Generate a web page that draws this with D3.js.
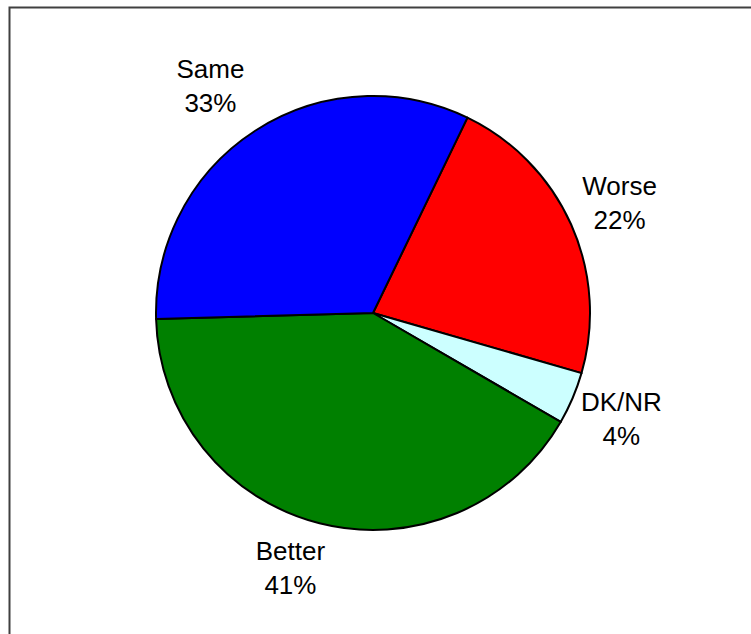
<!DOCTYPE html>
<html>
<head>
<meta charset="utf-8">
<script src="https://cdn.jsdelivr.net/npm/d3@7"></script>
<style>
    html, body { margin: 0; background: #fff; overflow: hidden; }
    svg { display: block; }
    text { font-family: "Liberation Sans", Arial, sans-serif; }
</style>
</head>
<body>
<svg id="chart"></svg>
<script>
// slice order is clockwise from the first edge
const categories = ['Worse', 'DK/NR', 'Better', 'Same'];
const values = [22.3, 3.9, 41.2, 32.6];
const colors = ['#ff0000', '#ccffff', '#008000', '#0000ff'];

const width = 751, height = 634;
const cx = 373, cy = 313, radius = 217;
const start = 25.8 * Math.PI / 180;

const svg = d3.select('#chart')
    .attr('width', width)
    .attr('height', height);

// chart frame (runs off the right and bottom edges)
svg.append('rect')
    .attr('x', 9.5)
    .attr('y', 7.5)
    .attr('width', 800)
    .attr('height', 700)
    .attr('fill', 'none')
    .attr('stroke', '#404040')
    .attr('stroke-width', 2);

const data = categories.map((c, i) => ({ name: c, value: values[i], color: colors[i] }));

const pie = d3.pie()
    .value(d => d.value)
    .sort(null)
    .startAngle(start)
    .endAngle(start + 2 * Math.PI);

const arc = d3.arc().innerRadius(0).outerRadius(radius);
const labelArc = d3.arc().innerRadius(270).outerRadius(270);

const g = svg.append('g')
    .attr('transform', `translate(${cx}, ${cy})`);

const arcs = pie(data);

g.selectAll('.slice')
    .data(arcs)
    .join('path')
    .attr('class', 'slice')
    .attr('d', arc)
    .attr('fill', d => d.data.color)
    .attr('stroke', '#000')
    .attr('stroke-width', 2)
    .attr('stroke-linejoin', 'round');

const total = d3.sum(values);

// labels on the left half sit a bit further out
function labelPos(d) {
    const [x, y] = labelArc.centroid(d);
    const mid = ((d.startAngle + d.endAngle) / 2) % (2 * Math.PI);
    const left = Math.sin(mid) < 0;
    return [left ? x - 16 : x, left && Math.cos(mid) < 0 ? y - 7 : y];
}

const labels = g.selectAll('.label')
    .data(arcs)
    .join('text')
    .attr('class', 'label')
    .attr('transform', d => `translate(${labelPos(d)})`)
    .attr('text-anchor', 'middle')
    .attr('font-size', 26)
    .attr('fill', '#000');

labels.append('tspan')
    .attr('x', 0)
    .attr('y', -8)
    .text(d => d.data.name);

labels.append('tspan')
    .attr('x', 0)
    .attr('y', 26)
    .text(d => Math.round(d.data.value / total * 100) + '%');
</script>
</body>
</html>
